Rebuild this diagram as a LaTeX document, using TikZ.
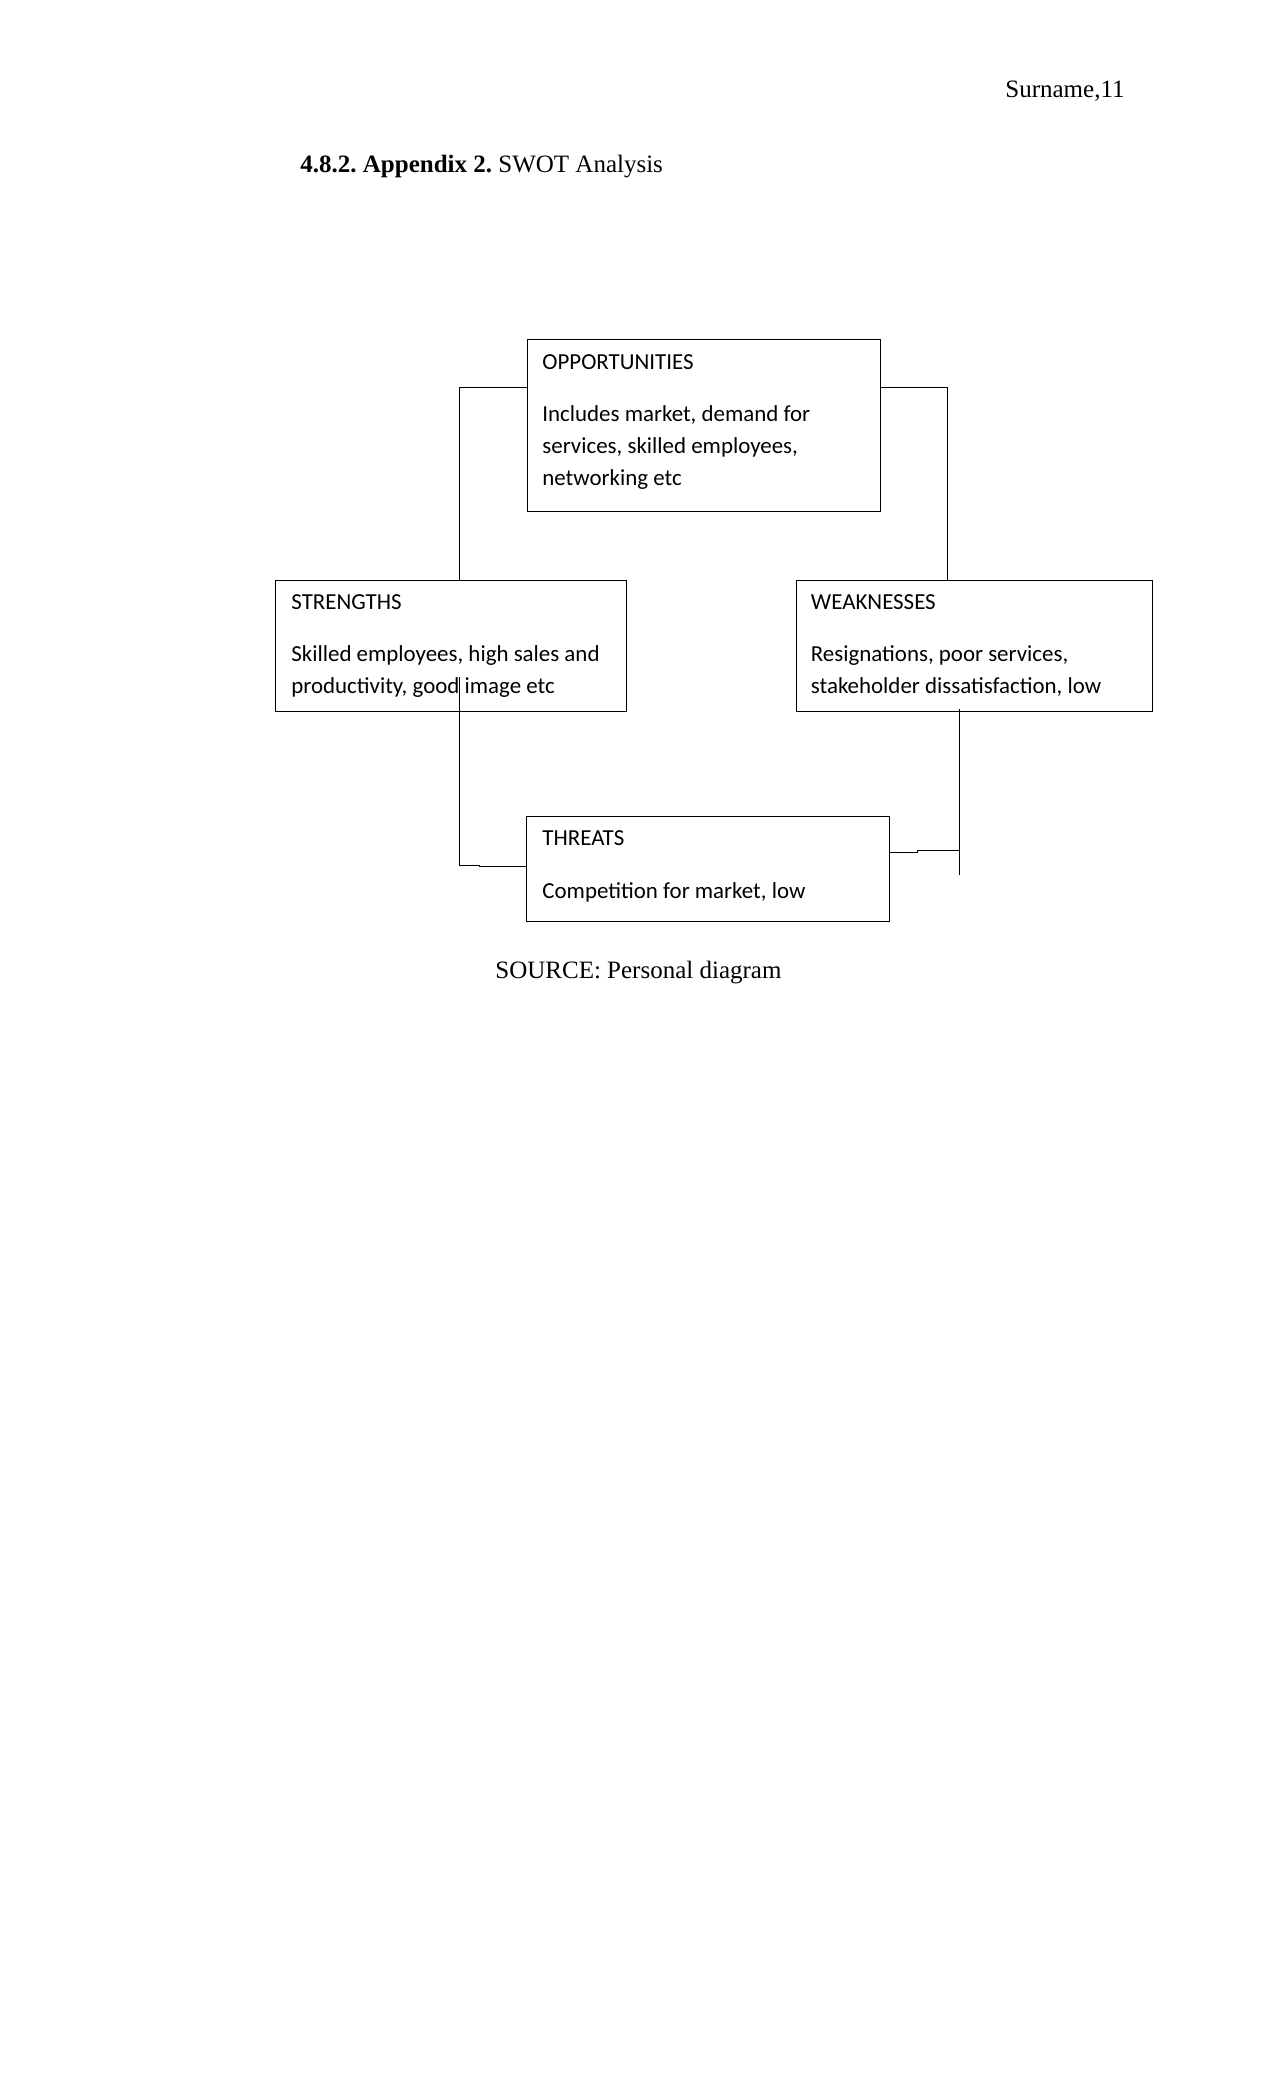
\documentclass[tikz,border=0pt]{standalone}
\usepackage{fontspec}
\setmainfont{Liberation Serif}
\newfontfamily\boxfont{Carlito}
\frenchspacing
\begin{document}
\begin{tikzpicture}[x=0.48pt,y=-0.48pt,
  swot/.style={draw,line width=0.45pt,inner sep=0pt,outer sep=0pt},
  btxt/.style={anchor=base west,inner sep=0pt,font=\boxfont\fontsize{11}{13}\selectfont},
  ptxt/.style={inner sep=0pt,font=\fontsize{12}{14}\selectfont},
  conn/.style={line width=0.45pt}]
\useasboundingbox (0,0) rectangle (1275,2100);
% page texts
\node[ptxt,anchor=base east] (hdr) at (1125,97) {Surname,11};
\node[ptxt,anchor=base west] (ttl) at (300,172) {\textbf{4.8.2. Appendix 2.} SWOT Analysis};
\node[ptxt,anchor=base west] (src) at (495,978) {SOURCE: Personal diagram};
% boxes
\node[swot,minimum width=169.44pt,minimum height=82.56pt] (opp) at (703.5,425) {};
\node[swot,minimum width=168.48pt,minimum height=62.88pt] (str) at (450.5,645.5) {};
\node[swot,minimum width=170.88pt,minimum height=62.88pt] (weak) at (974,645.5) {};
\node[swot,minimum width=174.24pt,minimum height=50.4pt] (thr) at (707.5,868.5) {};
% box texts
\node[btxt] (oppT) at (542,369) {OPPORTUNITIES};
\node[btxt] (oppA) at (542,421.7) {Includes market, demand for};
\node[btxt] (oppB) at (542,453.7) {services, skilled employees,};
\node[btxt] (oppC) at (542,485.7) {networking etc};
\node[btxt] (strT) at (291,609) {STRENGTHS};
\node[btxt] (strA) at (291,661.7) {Skilled employees, high sales and};
\node[btxt] (strB) at (291,693.7) {productivity, good image etc};
\node[btxt] (weakT) at (810.5,609) {WEAKNESSES};
\node[btxt] (weakA) at (810.5,661.7) {Resignations, poor services,};
\node[btxt] (weakB) at (810.5,693.7) {stakeholder dissatisfaction, low};
\node[btxt] (thrT) at (542,845.5) {THREATS};
\node[btxt] (thrA) at (542,898.5) {Competition for market, low};
% connector points
\coordinate (l1) at (459,387);
\coordinate (l0) at (459,677);
\coordinate (l2) at (459,865);
\coordinate (l3) at (479,865);
\coordinate (l4) at (479,866.5);
\coordinate (r1) at (947,387);
\coordinate (r2) at (959,709);
\coordinate (r3) at (959,875);
\coordinate (r4) at (917,852);
\coordinate (r5) at (917,850.5);
\coordinate (r6) at (959,850.5);
% connectors
\draw[conn] (opp.west |- l1) -- (l1) -- (l1 |- str.north);
\draw[conn] (l0) -- (l2) -- (l3) -- (l4) -- (thr.west |- l4);
\draw[conn] (opp.east |- r1) -- (r1) -- (r1 |- weak.north);
\draw[conn] (r2) -- (r3);
\draw[conn] (thr.east |- r4) -- (r4) -- (r5) -- (r6);
\end{tikzpicture}
\end{document}
